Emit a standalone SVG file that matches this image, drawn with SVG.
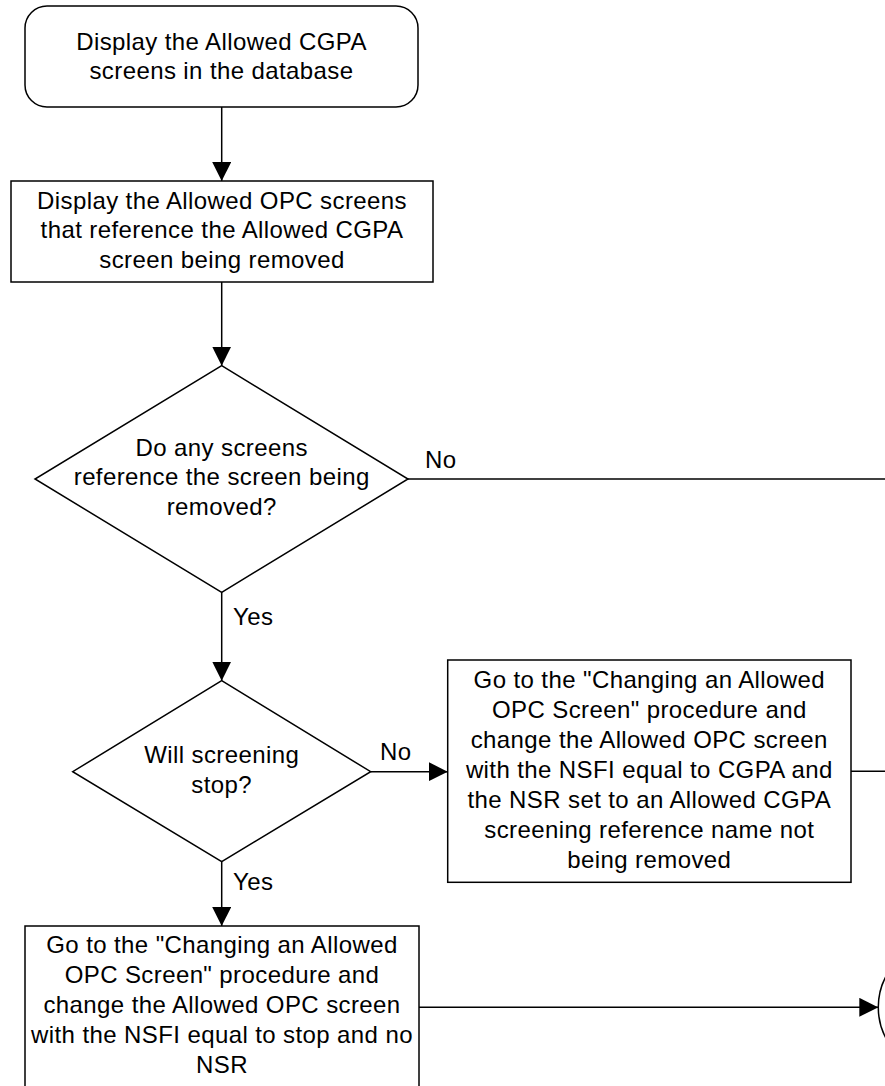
<svg xmlns="http://www.w3.org/2000/svg" width="885" height="1086" viewBox="0 0 885 1086">
<defs>
<style>
.s{fill:#fff;stroke:#000;stroke-width:1.5}
.c{fill:none;stroke:#000;stroke-width:1.5}
text{font-family:"Liberation Sans",Arial,sans-serif;font-size:24px;letter-spacing:0.4px;fill:#000}
.m{text-anchor:middle}
</style>
<marker id="ah" markerWidth="19" markerHeight="19" viewBox="0 0 19 19" refX="19" refY="9.5" orient="auto" markerUnits="userSpaceOnUse">
<path d="M0,0 L19,9.5 L0,19 Z" fill="#000"/>
</marker>
</defs>
<rect width="885" height="1086" fill="#fff"/>
<g id="connectors">
<line class="c" x1="221.7" y1="107" x2="221.7" y2="181" marker-end="url(#ah)"/>
<line class="c" x1="221.7" y1="282" x2="221.7" y2="365.7" marker-end="url(#ah)"/>
<line class="c" x1="408" y1="479" x2="890" y2="479"/>
<line class="c" x1="221.7" y1="592.3" x2="221.7" y2="680.7" marker-end="url(#ah)"/>
<line class="c" x1="370.7" y1="771.7" x2="447.7" y2="771.7" marker-end="url(#ah)"/>
<line class="c" x1="851" y1="771.2" x2="890" y2="771.2"/>
<line class="c" x1="221.7" y1="861.7" x2="221.7" y2="926" marker-end="url(#ah)"/>
<line class="c" x1="419" y1="1007.3" x2="878.3" y2="1007.3" marker-end="url(#ah)"/>
<text x="425" y="468">No</text>
<text x="233" y="625">Yes</text>
<text x="380" y="760">No</text>
<text x="233" y="890">Yes</text>
</g>
<g id="start">
<rect class="s" x="25" y="6" width="393" height="101" rx="22" ry="22"/>
<text class="m" x="221.5" y="50">Display the Allowed CGPA</text>
<text class="m" x="221.5" y="79">screens in the database</text>
</g>
<g id="display-opc">
<rect class="s" x="11" y="181" width="422" height="101"/>
<text class="m" x="222" y="209">Display the Allowed OPC screens</text>
<text class="m" x="222" y="238">that reference the Allowed CGPA</text>
<text class="m" x="222" y="268">screen being removed</text>
</g>
<g id="decision-reference">
<polygon class="s" points="221.7,365.7 408,479 221.7,592.3 35,479"/>
<text class="m" x="221.7" y="456">Do any screens</text>
<text class="m" x="221.7" y="485">reference the screen being</text>
<text class="m" x="221.7" y="515">removed?</text>
</g>
<g id="decision-stop">
<polygon class="s" points="221.7,680.7 370.7,771.7 221.7,861.7 72.7,771.7"/>
<text class="m" x="221.7" y="763">Will screening</text>
<text class="m" x="221.7" y="793">stop?</text>
</g>
<g id="change-cgpa">
<rect class="s" x="447.7" y="660" width="403.3" height="222.3"/>
<text class="m" x="649.3" y="688">Go to the "Changing an Allowed</text>
<text class="m" x="649.3" y="718">OPC Screen" procedure and</text>
<text class="m" x="649.3" y="748">change the Allowed OPC screen</text>
<text class="m" x="649.3" y="778">with the NSFI equal to CGPA and</text>
<text class="m" x="649.3" y="808">the NSR set to an Allowed CGPA</text>
<text class="m" x="649.3" y="838">screening reference name not</text>
<text class="m" x="649.3" y="868">being removed</text>
</g>
<g id="change-stop">
<rect class="s" x="25" y="926" width="394" height="164"/>
<text class="m" x="222" y="953">Go to the "Changing an Allowed</text>
<text class="m" x="222" y="983">OPC Screen" procedure and</text>
<text class="m" x="222" y="1013">change the Allowed OPC screen</text>
<text class="m" x="222" y="1043">with the NSFI equal to stop and no</text>
<text class="m" x="222" y="1073">NSR</text>
</g>
<g id="connector-circle">
<circle class="s" cx="943" cy="1007.3" r="64.7"/>
</g>
</svg>
